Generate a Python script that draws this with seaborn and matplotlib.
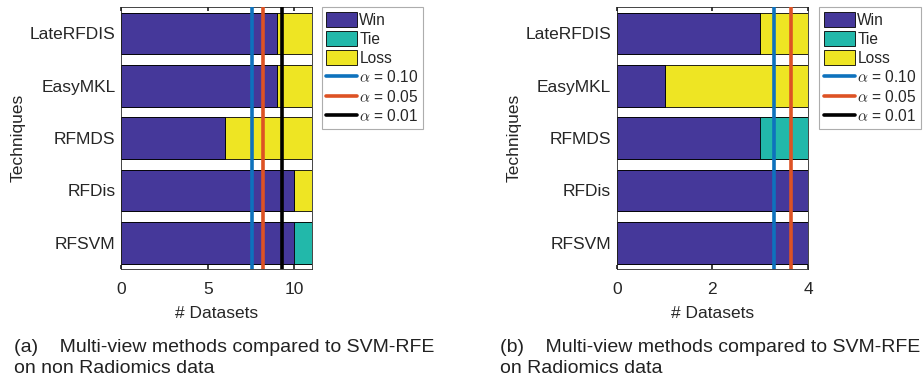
import matplotlib
matplotlib.use("Agg")
import matplotlib.pyplot as plt
import seaborn as sns
import pandas as pd
from matplotlib.patches import Patch
from matplotlib.lines import Line2D

techniques = ["LateRFDIS", "EasyMKL", "RFMDS", "RFDis", "RFSVM"]
win_a = [9, 9, 6, 10, 10]
tie_a = [0, 0, 0, 0, 1]
loss_a = [2, 2, 5, 1, 0]
alpha_a = [7.56, 8.17, 9.3]
win_b = [3, 1, 3, 4, 4]
tie_b = [0, 0, 1, 0, 0]
loss_b = [1, 3, 0, 0, 0]
alpha_b = [3.28, 3.65, 4.5]
alpha_labels = ["0.10", "0.05", "0.01"]
xlims = [11, 4]
xticks_list = [[0, 5, 10], [0, 2, 4]]
captions = ["(a)    Multi-view methods compared to SVM-RFE\non non Radiomics data",
            "(b)    Multi-view methods compared to SVM-RFE\non Radiomics data"]

C_WIN = "#45389A"
C_TIE = "#22B8AA"
C_LOSS = "#EEE523"
C_LINES = ["#0E72BD", "#DD5224", "#000000"]

sns.set_theme(style="white")
plt.rcParams["font.family"] = ["Liberation Sans", "DejaVu Sans"]
plt.rcParams["mathtext.fontset"] = "cm"

fig = plt.figure(figsize=(9.24, 3.82), dpi=100)
positions = [[121/924, 113/382, 190.7/924, 261.7/382],
             [616.7/924, 113/382, 191.3/924, 261.7/382]]
leg_x = [1.052, 1.06]

for i, (w, t, l, al) in enumerate([(win_a, tie_a, loss_a, alpha_a), (win_b, tie_b, loss_b, alpha_b)]):
    ax = fig.add_axes(positions[i])
    df = pd.DataFrame({"tech": techniques, "win": w, "tie": t, "loss": l})
    df["wt"] = df["win"] + df["tie"]
    df["total"] = df["wt"] + df["loss"]
    for col, c in [("total", C_LOSS), ("wt", C_TIE), ("win", C_WIN)]:
        sns.barplot(data=df, y="tech", x=col, orient="h", color=c, saturation=1,
                    edgecolor="black", linewidth=0.6, width=0.8, ax=ax, order=techniques)
    for v, c in zip(al, C_LINES):
        ax.axvline(v, color=c, linewidth=2.6, zorder=5)
    ax.set_xlim(0, xlims[i])
    ax.set_ylim(4.5, -0.5)
    ax.set_xticks(xticks_list[i])
    ax.set_xticklabels([str(x) for x in xticks_list[i]])
    ax.tick_params(axis="x", direction="in", top=True, bottom=True, length=3,
                   labelsize=12.5, colors="#262626", pad=9)
    ax.tick_params(axis="y", length=0, labelsize=12.5, colors="#262626", pad=4)
    for s in ax.spines.values():
        s.set_visible(True)
        s.set_color("#262626")
        s.set_linewidth(0.6)
    ax.set_xlabel("# Datasets", fontsize=12.5, color="#262626", labelpad=7)
    ax.set_ylabel("Techniques", fontsize=12.5, color="#262626", labelpad=3)
    handles = [Patch(facecolor=C_WIN, edgecolor="black", linewidth=0.6, label="Win"),
               Patch(facecolor=C_TIE, edgecolor="black", linewidth=0.6, label="Tie"),
               Patch(facecolor=C_LOSS, edgecolor="black", linewidth=0.6, label="Loss")]
    for c, lab in zip(C_LINES, alpha_labels):
        handles.append(Line2D([0], [0], color=c, linewidth=2.6, label=r"$\alpha$ = " + lab))
    leg = ax.legend(handles=handles, loc="upper left", bbox_to_anchor=(leg_x[i], 1.0),
                    fontsize=11.2, frameon=True, fancybox=False, handlelength=2.0,
                    handleheight=1.1, handletextpad=0.13, labelspacing=0.22,
                    borderpad=0.3, borderaxespad=0)
    leg.get_frame().set_edgecolor("#999999")
    leg.get_frame().set_linewidth(0.8)
    for txt in leg.get_texts():
        txt.set_color("#262626")
    fig.text([14/924, 500/924][i], 1 - 339/382, captions[i], ha="left", va="top",
             fontsize=14, color="#222222", linespacing=1.27)

fig.savefig("out.png", dpi=100)
